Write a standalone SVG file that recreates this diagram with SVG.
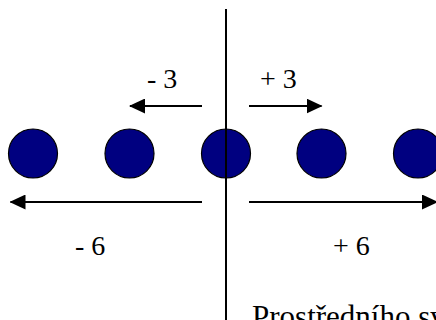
<svg xmlns="http://www.w3.org/2000/svg" width="436" height="320" viewBox="0 0 436 320">
<defs>
<style>
.ball{fill:#000080;stroke:#000;stroke-width:1.2}
.ln{stroke:#000;stroke-width:2;fill:none}
</style>
<marker id="ah" viewBox="0 0 16 15" refX="15" refY="7.5" markerWidth="16" markerHeight="15" markerUnits="userSpaceOnUse" orient="auto">
<path d="M0,0 L16,7.5 L0,15 Z" fill="#000"/>
</marker>
</defs>
<rect width="436" height="320" fill="#fff"/>
<g id="ball1"><circle class="ball" cx="33" cy="153.5" r="24.5"/></g>
<g id="ball2"><circle class="ball" cx="129.5" cy="153.5" r="24.5"/></g>
<g id="ball3"><circle class="ball" cx="226" cy="153.5" r="24.5"/></g>
<g id="ball4"><circle class="ball" cx="321.5" cy="153.5" r="24.5"/></g>
<g id="ball5"><circle class="ball" cx="418" cy="153.5" r="24.5"/></g>
<g id="connectors">
<line class="ln" x1="226" y1="9" x2="226" y2="320"/>
<line class="ln" x1="202" y1="106" x2="130" y2="106" marker-end="url(#ah)"/>
<line class="ln" x1="249" y1="106" x2="321.5" y2="106" marker-end="url(#ah)"/>
<line class="ln" x1="202" y1="202" x2="10.5" y2="202" marker-end="url(#ah)"/>
<line class="ln" x1="249" y1="202" x2="437" y2="202" marker-end="url(#ah)"/>
</g>
<g id="labels" font-family="Liberation Serif, serif" font-size="28" fill="#000">
<text x="147" y="88">- 3</text>
<text x="260" y="88">+ 3</text>
<text x="75" y="255">- 6</text>
<text x="333" y="255">+ 6</text>
<text x="252" y="327" font-size="31">Prostředního sv</text>
</g>
</svg>
